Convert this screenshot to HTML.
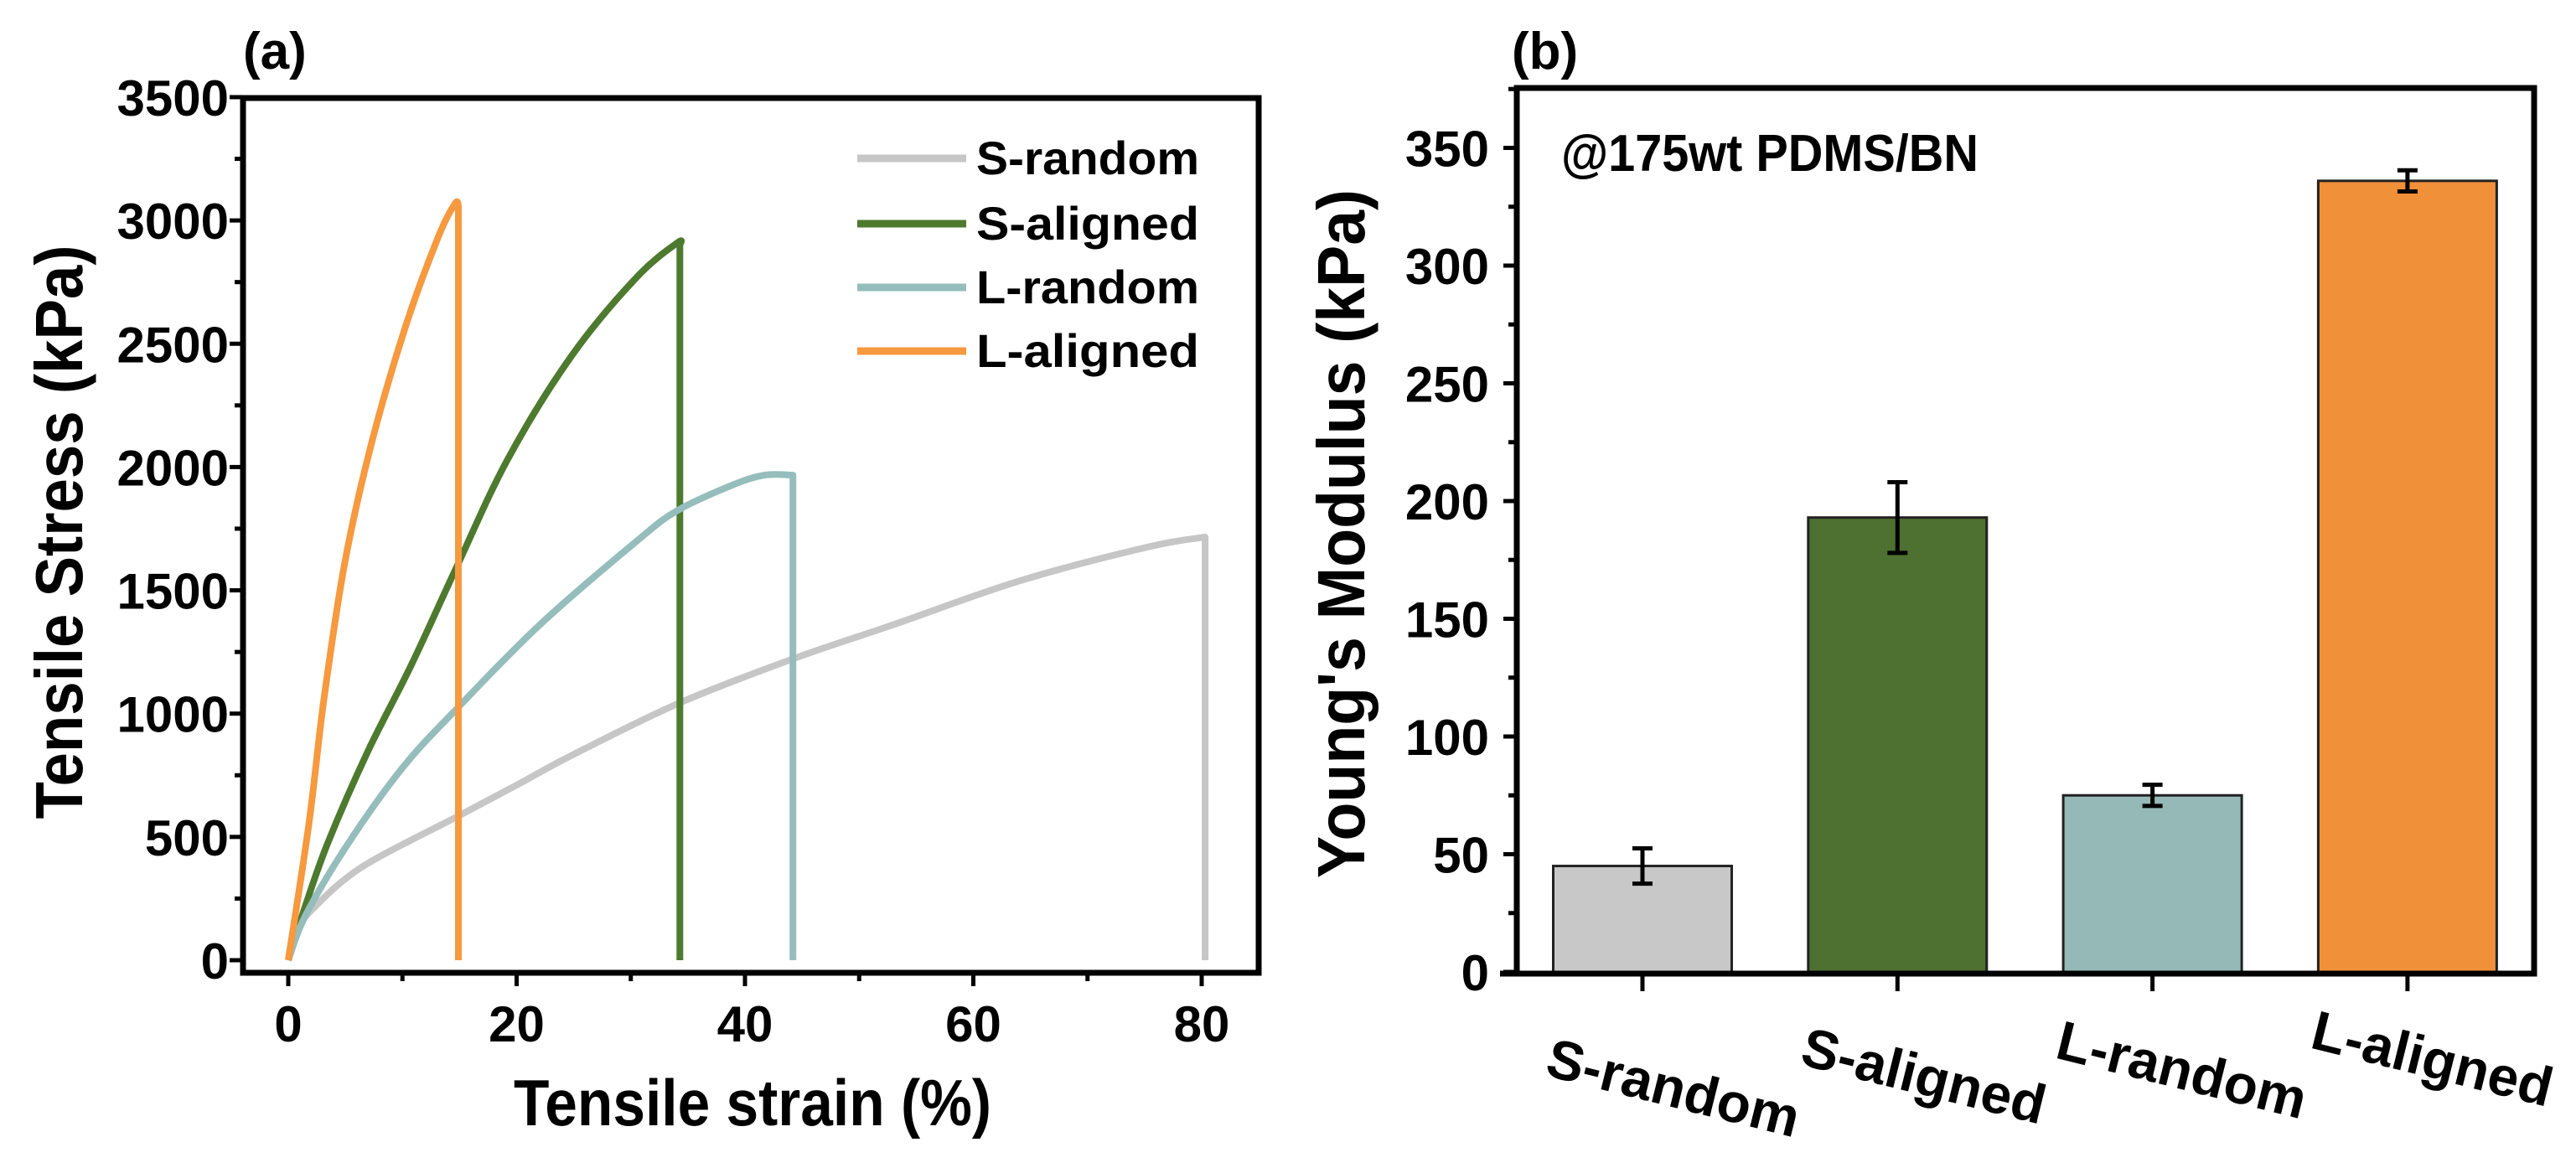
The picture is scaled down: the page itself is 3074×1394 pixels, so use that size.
<!DOCTYPE html>
<html><head><meta charset="utf-8"><style>
html,body{margin:0;padding:0;background:#fff;}
svg{display:block;font-family:"Liberation Sans",Arial,sans-serif;font-weight:bold;}
</style></head><body>
<svg id="fig" width="3074" height="1394" viewBox="0 0 3074 1394" xmlns="http://www.w3.org/2000/svg">
<g id="pa"></g>
<g id="pb"></g>
</svg>
<script>
// ---- Panel (a) data ----
const aXTicks = [0, 20, 40, 60, 80];
const aYTicks = [0, 500, 1000, 1500, 2000, 2500, 3000, 3500];
const seriesNames = ["S-random", "S-aligned", "L-random", "L-aligned"];
const sRandomX = [0, 1.0, 2.4, 5.0, 8.0, 14.7, 20.0, 24.8, 34.1, 44.2, 52.9, 64.1, 75.4, 80.3, 80.3];
const sRandomY = [0, 140, 220, 330, 420, 580, 710, 830, 1040, 1222, 1359, 1539, 1677, 1716, 0];
const sAlignedX = [0, 1.5, 3.5, 7.0, 10.8, 14.7, 19.2, 24.8, 30.5, 34.1, 34.3, 34.3];
const sAlignedY = [0, 220, 480, 850, 1199, 1590, 2030, 2450, 2769, 2910, 2900, 0];
const lRandomX = [0, 1.5, 5.2, 10.0, 14.7, 22.0, 30.5, 34.1, 38.9, 41.7, 44.2, 44.2];
const lRandomY = [0, 180, 470, 780, 1017, 1359, 1699, 1824, 1927, 1967, 1967, 0];
const lAlignedX = [0, 1.8, 3.1, 4.9, 7.2, 10.2, 13.1, 14.6, 14.9, 14.9];
const lAlignedY = [0, 550, 1050, 1600, 2080, 2560, 2929, 3068, 3060, 0];
// ---- Panel (b) data ----
const bCategories = ["S-random", "S-aligned", "L-random", "L-aligned"];
const bValues = [45, 193, 75, 336];
const bErrors = [7.5, 15, 4.5, 4.5];
const bYTicks = [0, 50, 100, 150, 200, 250, 300, 350];

const NS = "http://www.w3.org/2000/svg";
function mk(parent, tag, attrs, text) {
  const e = document.createElementNS(NS, tag);
  for (const k in attrs) e.setAttribute(k, attrs[k]);
  if (text !== undefined) e.textContent = text;
  parent.appendChild(e);
  return e;
}
const colors = ["#c6c6c6", "#4e7a2f", "#95bdbc", "#f6993f"];
const barColors = ["#c8c8c8", "#4e7030", "#95b9b7", "#f0913a"];

// ===== Panel A =====
const pa = document.getElementById("pa");
const ax = v => 344 + v * 13.625;
const ay = v => 1146 - v * 0.2943;
function smoothPath(P) {
  const n = P.length;
  let d = `M${P[0][0].toFixed(1)},${P[0][1].toFixed(1)}`;
  const m = n - 1;
  for (let i = 0; i < m - 1; i++) {
    const p0 = P[Math.max(i - 1, 0)], p1 = P[i], p2 = P[i + 1], p3 = P[Math.min(i + 2, m - 1)];
    const c1x = p1[0] + (p2[0] - p0[0]) / 6, c1y = p1[1] + (p2[1] - p0[1]) / 6;
    const c2x = p2[0] - (p3[0] - p1[0]) / 6, c2y = p2[1] - (p3[1] - p1[1]) / 6;
    d += `C${c1x.toFixed(1)},${c1y.toFixed(1)} ${c2x.toFixed(1)},${c2y.toFixed(1)} ${p2[0].toFixed(1)},${p2[1].toFixed(1)}`;
  }
  d += `L${P[m][0].toFixed(1)},${P[m][1].toFixed(1)}`;
  return d;
}
const sx = [sRandomX, sAlignedX, lRandomX, lAlignedX];
const sy = [sRandomY, sAlignedY, lRandomY, lAlignedY];
for (let s = 0; s < 4; s++) {
  const P = sx[s].map((x, i) => [ax(x), ay(sy[s][i])]);
  const pl = mk(pa, "path", {d: smoothPath(P), fill: "none", stroke: colors[s], "stroke-width": 8, "stroke-linejoin": "round"});
  
  
}
const fa = mk(pa, "rect", {x: 290, y: 117, width: 1212, height: 1044, fill: "none", stroke: "#000", "stroke-width": 7});


for (let v = 0; v <= 80; v += 10) {
  const major = v % 20 === 0;
  const t = mk(pa, "line", {x1: ax(v), x2: ax(v), y1: 1161, y2: 1161 + (major ? 16 : 10), stroke: "#000", "stroke-width": 5});
  
  
}
aXTicks.forEach(v => {
  const t = mk(pa, "text", {x: ax(v), y: 1243, "text-anchor": "middle", "font-size": 60}, String(v));
  
  
});
for (let v = 0; v <= 3500; v += 250) {
  const major = v % 500 === 0;
  const t = mk(pa, "line", {x1: 290, x2: 290 - (major ? 16 : 10), y1: ay(v), y2: ay(v), stroke: "#000", "stroke-width": 5});
  
  
}
aYTicks.forEach(v => {
  const t = mk(pa, "text", {x: 273, y: ay(v) + 22, "text-anchor": "end", "font-size": 60}, String(v));
  
  
});
const legY = [189, 267, 343, 419];
for (let s = 0; s < 4; s++) {
  const l = mk(pa, "line", {x1: 1023, x2: 1153, y1: legY[s], y2: legY[s], stroke: colors[s], "stroke-width": 9});
  
  
  const t = mk(pa, "text", {x: 1165, y: legY[s] + 19, "font-size": 56, textLength: 266, lengthAdjust: "spacingAndGlyphs"}, seriesNames[s]);
  
  
}
let t1 = mk(pa, "text", {x: 898, y: 1343, "text-anchor": "middle", "font-size": 78, textLength: 570, lengthAdjust: "spacingAndGlyphs"}, "Tensile strain (%)");


let t2 = mk(pa, "text", {x: 0, y: 0, "text-anchor": "middle", "font-size": 80, textLength: 685, lengthAdjust: "spacingAndGlyphs", transform: "translate(98,635) rotate(-90)"}, "Tensile Stress (kPa)");


let t3 = mk(pa, "text", {x: 290, y: 82, "font-size": 62}, "(a)");



// ===== Panel B =====
const pb = document.getElementById("pb");
const by = v => 1160 - v * 2.81;
const bx = i => 1960 + i * 304.3;
const bw = 213;
bValues.forEach((v, i) => {
  const r = mk(pb, "rect", {x: bx(i) - bw / 2, y: by(v), width: bw, height: by(0) - by(v), fill: barColors[i], stroke: "#222", "stroke-width": 3});
  
  
  const e = bErrors[i];
  const g = mk(pb, "path", {d: `M${bx(i)},${by(v + e)}V${by(v - e)}M${bx(i) - 12},${by(v + e)}H${bx(i) + 12}M${bx(i) - 12},${by(v - e)}H${bx(i) + 12}`, stroke: "#000", "stroke-width": 5, fill: "none"});
  
  
});
const fb = mk(pb, "path", {d: "M1790,1162H3024V105H1810V1162", fill: "none", stroke: "#000", "stroke-width": 7});


for (let v = 0; v <= 375; v += 25) {
  const major = v % 50 === 0;
  const t = mk(pb, "line", {x1: 1810, x2: 1810 - (major ? 16 : 10), y1: by(v), y2: by(v), stroke: "#000", "stroke-width": 5});
  
  
}
bYTicks.forEach(v => {
  const t = mk(pb, "text", {x: 1777, y: by(v) + 22, "text-anchor": "end", "font-size": 60}, String(v));
  
  
});
const labY = [1283, 1270, 1262, 1250];
bCategories.forEach((c, i) => {
  const t = mk(pb, "line", {x1: bx(i), x2: bx(i), y1: 1162, y2: 1183, stroke: "#000", "stroke-width": 5});
  
  
  const l = mk(pb, "text", {x: 0, y: 0, "font-size": 66, transform: `translate(${bx(i) - 118},${labY[i]}) rotate(14)`}, c);
  
  
});
let b1 = mk(pb, "text", {x: 0, y: 0, "text-anchor": "middle", "font-size": 80, textLength: 822, lengthAdjust: "spacingAndGlyphs", transform: "translate(1628,637) rotate(-90)"}, "Young's Modulus (kPa)");


let b2 = mk(pb, "text", {x: 1863, y: 204, "font-size": 62, textLength: 498, lengthAdjust: "spacingAndGlyphs"}, "@175wt PDMS/BN");


let b3 = mk(pb, "text", {x: 1804, y: 82, "font-size": 62}, "(b)");


</script>
</body></html>
